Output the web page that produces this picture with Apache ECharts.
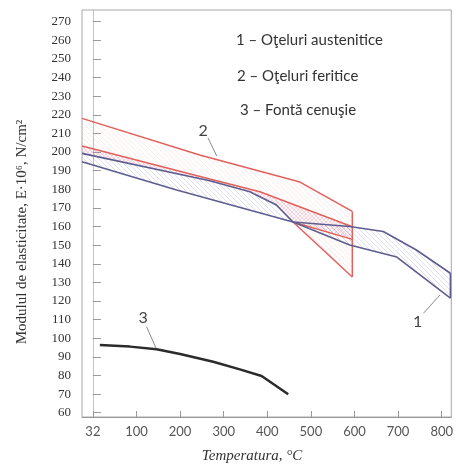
<!DOCTYPE html>
<html>
<head>
<meta charset="utf-8">
<script src="https://cdn.jsdelivr.net/npm/echarts@6/dist/echarts.min.js"></script>
<style>
  html, body { margin: 0; padding: 0; background: #fff; }
  #chart { width: 456px; height: 465px; }
</style>
</head>
<body>
<div id="chart"></div>
<script>
// Axis ticks (the first temperature tick sits at the origin position and reads 32)
const xTickValues = [0, 100, 200, 300, 400, 500, 600, 700, 800];
const xTickLabels = ['32', '100', '200', '300', '400', '500', '600', '700', '800'];
const yTickValues = [60, 70, 80, 90, 100, 110, 120, 130, 140, 150, 160, 170, 180, 190, 200, 210, 220, 230, 240, 250, 260, 270];

// 1 – austenitic steels: two boundary curves that cross near 460 °C
const austUpperStart = [[-25, 199.3], [268, 184.6], [360, 178.7], [421, 171.6], [459, 162.4], [589, 150.1], [697, 143.6], [820, 121.5]];
const austLowerStart = [[-25, 194.8], [192, 179.6], [459, 162.4], [589, 160.0], [666, 157.3], [742, 147.4], [820, 134.9]];

// 2 – ferritic steels
const ferrUpper = [[-25, 218.1], [245, 198.4], [475, 183.9], [595, 168.1]];
const ferrMiddle = [[-25, 203.2], [268, 185.5], [383, 178.7], [595, 159.9]];
const ferrInner = [[459, 162.4], [595, 153.1]];
const ferrDrop = [[595, 168.1], [595, 132.9]];
const ferrDiagonal = [[595, 132.9], [459, 162.4]];

// 3 – grey cast iron
const castIron = [[16, 96.4], [85, 95.5], [146, 94.1], [200, 91.5], [276, 87.4], [337, 83.3], [387, 79.7], [448, 69.9]];

// Curve numbers with their leader lines: [text x, text y, from x, from y, to x, to y]
const curveNames = ['1', '2', '3'];
const curveTags = [[745, 108.9, 758, 113.4, 796, 123.2], [253, 211.3, 264, 207.6, 284, 197.9], [115, 110.7, 123, 106.2, 145, 94.6]];

const legendLines = ['1 – Oţeluri austenitice', '2 – Oţeluri feritice', '3 – Fontă cenuşie'];

function hatch(color, dirs, step) {
  const c = document.createElement('canvas');
  c.width = step; c.height = step;
  const g = c.getContext('2d');
  g.strokeStyle = color; g.lineWidth = 1;
  dirs.forEach(function (d) {
    g.beginPath();
    if (d === '\\') {
      g.moveTo(-1, -1); g.lineTo(step + 1, step + 1);
      g.moveTo(-1, step - 1); g.lineTo(1, step + 1);
      g.moveTo(step - 1, -1); g.lineTo(step + 1, 1);
    } else {
      g.moveTo(-1, step + 1); g.lineTo(step + 1, -1);
      g.moveTo(-1, 1); g.lineTo(1, -1);
      g.moveTo(step - 1, step + 1); g.lineTo(step + 1, step - 1);
    }
    g.stroke();
  });
  return { image: c, repeat: 'repeat' };
}

const austBand = austUpperStart.concat(austLowerStart.slice().reverse());
const austToCross = austUpperStart.filter(function (p) { return p[0] <= 459; }).reverse();
const ferrBand = ferrUpper.concat([[595, 132.9], [459, 162.4]]).concat(austToCross.slice(1));
const ferrCross = ferrMiddle.concat([[595, 153.1], [459, 162.4]]).concat(austToCross.slice(1));

function polygonSeries(points, fill, z) {
  return {
    type: 'custom', coordinateSystem: 'cartesian2d', data: [0], z: z, silent: true, clip: true,
    renderItem: function (params, api) {
      return {
        type: 'polygon',
        shape: { points: points.map(function (p) { return api.coord(p); }) },
        style: { fill: fill, stroke: null }
      };
    }
  };
}

function lineSeries(points, color, width) {
  return {
    type: 'line', data: points, symbol: 'none', silent: true, z: 5,
    lineStyle: { color: color, width: width }
  };
}

const blue = '#5d5d90';
const red = '#e2605c';

const chart = echarts.init(document.getElementById('chart'), null, { renderer: 'canvas' });
chart.setOption({
  animation: false,
  backgroundColor: '#fff',
  grid: { left: 82, right: 4, top: 10, bottom: 48, show: true, borderColor: '#a8a8a8', borderWidth: 1 },
  xAxis: {
    type: 'value', min: -25, max: 822,
    axisLine: { show: true, lineStyle: { color: '#999', width: 1 } },
    axisTick: { show: true, inside: true, length: 6, customValues: xTickValues, lineStyle: { color: '#999' } },
    axisLabel: {
      customValues: xTickValues, margin: 8, color: '#555', fontFamily: 'Lato', fontSize: 13,
      formatter: function (v) { return xTickLabels[xTickValues.indexOf(v)]; }
    },
    splitLine: { show: false }
  },
  yAxis: {
    type: 'value', min: 57.7, max: 276.3,
    axisLine: { show: true, lineStyle: { color: '#c4c4c4', width: 1 } },
    axisTick: { show: true, inside: true, length: 8, customValues: yTickValues, lineStyle: { color: '#999' } },
    axisLabel: {
      customValues: yTickValues, margin: 11, color: '#333', fontFamily: 'Liberation Serif', fontSize: 13,
      padding: [0, 0, 8, 0]
    },
    splitLine: { show: false }
  },
  graphic: [
    { type: 'text', left: 236, top: 33, style: { text: legendLines[0], font: '15px Lato', fill: '#333' } },
    { type: 'text', left: 237, top: 69, style: { text: legendLines[1], font: '15px Lato', fill: '#333' } },
    { type: 'text', left: 240, top: 103, style: { text: legendLines[2], font: '15px Lato', fill: '#333' } },
    {
      type: 'text', x: 22, y: 232, rotation: Math.PI / 2,
      style: { text: 'Modulul de elasticitate, E·10⁶, N/cm²', font: '15px "Liberation Serif"', fill: '#333', align: 'center', verticalAlign: 'middle' }
    },
    {
      type: 'text', x: 252, y: 456,
      style: { text: 'Temperatura, °C', font: 'italic 15px "Liberation Serif"', fill: '#333', align: 'center', verticalAlign: 'middle' }
    }
  ],
  series: [
    polygonSeries(ferrBand, hatch('rgba(235,130,130,0.16)', ['\\'], 5), 1),
    polygonSeries(austBand, hatch('rgba(110,110,175,0.22)', ['\\'], 5), 2),
    polygonSeries(ferrCross, hatch('rgba(222,100,140,0.26)', ['\\', '/'], 4), 3),
    lineSeries(ferrUpper, red, 1.5),
    lineSeries(ferrMiddle, red, 1.5),
    lineSeries(ferrInner, red, 1.5),
    lineSeries(ferrDrop, red, 1.5),
    lineSeries(ferrDiagonal, red, 1.5),
    lineSeries(austUpperStart, blue, 1.6),
    lineSeries(austLowerStart, blue, 1.6),
    lineSeries([austUpperStart[austUpperStart.length - 1], austLowerStart[austLowerStart.length - 1]], blue, 1.6),
    lineSeries(castIron, '#2b2b2b', 2.5),
    {
      type: 'custom', coordinateSystem: 'cartesian2d', data: curveTags, z: 6, silent: true,
      renderItem: function (params, api) {
        const t = api.coord([api.value(0), api.value(1)]);
        const a = api.coord([api.value(2), api.value(3)]);
        const b = api.coord([api.value(4), api.value(5)]);
        return {
          type: 'group',
          children: [
            { type: 'line', shape: { x1: a[0], y1: a[1], x2: b[0], y2: b[1] }, style: { stroke: '#8a8a8a', lineWidth: 1 } },
            { type: 'text', x: t[0], y: t[1], style: { text: curveNames[params.dataIndex], font: '16px Lato', fill: '#444', align: 'center', verticalAlign: 'middle' } }
          ]
        };
      }
    }
  ]
});
</script>
</body>
</html>
